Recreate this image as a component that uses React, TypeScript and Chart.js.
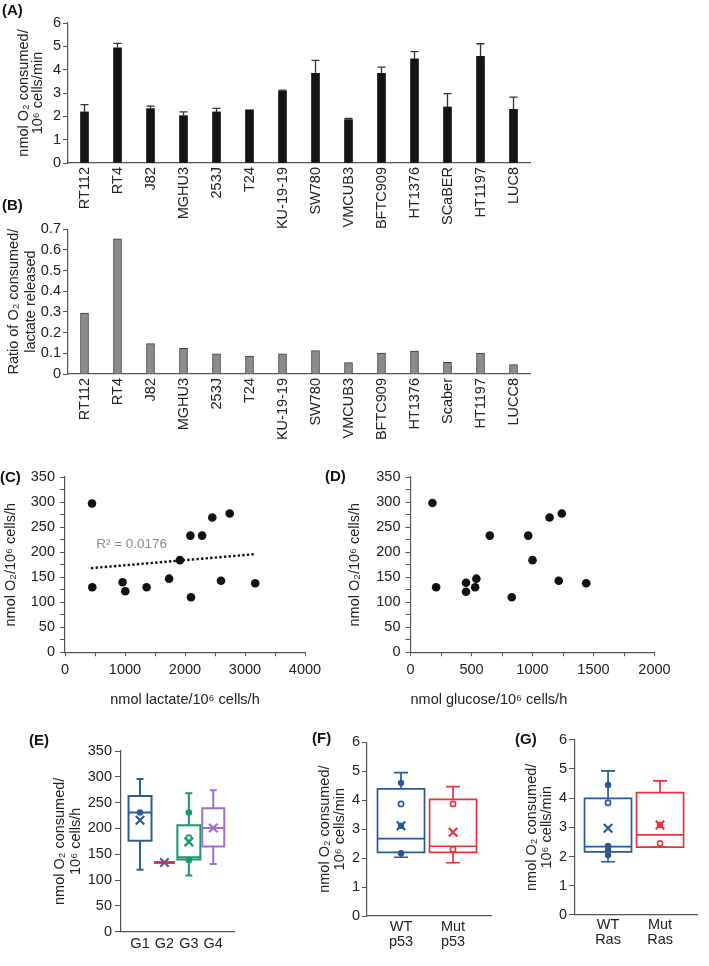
import React, { useEffect, useRef } from 'react';
import { Chart, registerables } from 'chart.js';

Chart.register(...registerables);

const FONT = "'Liberation Sans', Arial, Helvetica, sans-serif";
const TEXT = '#222222';
const AXIS = '#555555';
Chart.defaults.font.family = FONT;
Chart.defaults.color = TEXT;

// ---------------- Panel A ----------------
const cellLinesA = ['RT112', 'RT4', 'J82', 'MGHU3', '253J', 'T24', 'KU-19-19', 'SW780', 'VMCUB3', 'BFTC909', 'HT1376', 'SCaBER', 'HT1197', 'LUC8'];
const o2RateA = [2.19, 4.94, 2.33, 2.03, 2.19, 2.28, 3.08, 3.84, 1.86, 3.84, 4.46, 2.40, 4.57, 2.30];
const o2RateErrTopA = [2.50, 5.13, 2.44, 2.19, 2.34, 2.28, 3.12, 4.40, 1.91, 4.11, 4.77, 2.97, 5.11, 2.82];
const yTicksA = [0, 1, 2, 3, 4, 5, 6];

// ---------------- Panel B ----------------
const cellLinesB = ['RT112', 'RT4', 'J82', 'MGHU3', '253J', 'T24', 'KU-19-19', 'SW780', 'VMCUB3', 'BFTC909', 'HT1376', 'Scaber', 'HT1197', 'LUCC8'];
const ratioB = [0.295, 0.654, 0.147, 0.124, 0.097, 0.087, 0.097, 0.113, 0.055, 0.101, 0.111, 0.057, 0.101, 0.045];
const yTicksB = [0, 0.1, 0.2, 0.3, 0.4, 0.5, 0.6, 0.7];

// ---------------- Panel C ----------------
const lactateC = [450, 455, 960, 1005, 1360, 1735, 1915, 2090, 2100, 2285, 2455, 2600, 2745, 3170];
const o2C = [297, 130, 140, 122, 130, 147, 184, 233, 110, 233, 269, 143, 277, 138];
const trendXC = [433, 3172];
const trendYC = [168, 196];
const rSquaredText = 'R² = 0.0176';
const yTicksC = [0, 25, 50, 75, 100, 125, 150, 175, 200, 225, 250, 275, 300, 325, 350];
const xTicksC = [0, 500, 1000, 1500, 2000, 2500, 3000, 3500, 4000];

// ---------------- Panel D ----------------
const glucoseD = [180, 210, 455, 455, 530, 540, 650, 830, 965, 1000, 1140, 1215, 1240, 1440];
const o2D = [298, 130, 139, 121, 130, 147, 233, 110, 233, 184, 269, 143, 277, 138];
const xTicksD = [0, 250, 500, 750, 1000, 1250, 1500, 1750, 2000];

// ---------------- Panel E ----------------
const groupsE = ['G1', 'G2', 'G3', 'G4'];
const whiskerHighE = [296, 134, 268, 274];
const q3E = [263, 134, 206, 239];
const medianE = [231, 134, 144, 201];
const q1E = [176, 134, 140, 165];
const whiskerLowE = [120, 134, 109, 131];
const meanE = [216, 134, 174, 201];
const filledPointsE = [[231], [], [231, 139], []];
const openPointsE = [[], [], [182], []];
const yTicksE = [0, 50, 100, 150, 200, 250, 300, 350];

// ---------------- Panel F ----------------
const groupsF = [['WT', 'p53'], ['Mut', 'p53']];
const whiskerHighF = [4.95, 4.47];
const q3F = [4.39, 4.03];
const medianF = [2.67, 2.41];
const q1F = [2.20, 2.20];
const whiskerLowF = [2.03, 1.84];
const meanF = [3.12, 2.89];
const filledPointsF = [[4.60, 3.12, 2.17], []];
const openPointsF = [[3.87], [3.87, 2.30]];

// ---------------- Panel G ----------------
const groupsG = [['WT', 'Ras'], ['Mut', 'Ras']];
const whiskerHighG = [4.93, 4.59];
const q3G = [3.99, 4.19];
const medianG = [2.34, 2.74];
const q1G = [2.16, 2.32];
const whiskerLowG = [1.82, 2.32];
const meanG = [2.97, 3.08];
const filledPointsG = [[4.45, 2.36, 2.22, 2.05], [3.08]];
const openPointsG = [[3.84], [2.45]];
const yTicksFG = [0, 1, 2, 3, 4, 5, 6];

// ---------------- helpers ----------------
const font = (size: number, extra: any = {}) => ({ family: FONT, size, ...extra });

function leftAxis(c: any) {
  return {
    type: 'linear',
    position: 'left',
    min: c.min,
    max: c.max,
    afterBuildTicks: (s: any) => { s.ticks = c.ticks.map((v: number) => ({ value: v })); },
    afterFit: (s: any) => { s.width = c.width; },
    ticks: {
      autoSkip: false,
      padding: c.pad,
      color: TEXT,
      font: font(c.fontSize),
      callback: c.label || ((v: number) => String(v)),
    },
    grid: { display: true, drawOnChartArea: false, drawTicks: true, tickLength: c.tickLen, color: AXIS, lineWidth: 1 },
    border: { display: true, color: AXIS, width: 1.2 },
    title: {
      display: true,
      text: c.title,
      color: TEXT,
      font: font(c.titleSize, { lineHeight: c.titleLH + 'px' }),
      padding: { top: c.titlePad, bottom: 0 },
    },
  };
}

function categoryBottom(height: number) {
  return {
    type: 'category',
    position: 'bottom',
    afterFit: (s: any) => { s.height = height; },
    grid: { display: false, drawTicks: false },
    border: { display: true, color: AXIS, width: 1.2 },
    ticks: { autoSkip: false, minRotation: 90, maxRotation: 90, padding: 4, color: TEXT, font: font(14.5) },
  };
}

function linearBottom(c: any) {
  return {
    type: 'linear',
    position: 'bottom',
    min: c.min,
    max: c.max,
    afterBuildTicks: (s: any) => { s.ticks = c.ticks.map((v: number) => ({ value: v })); },
    afterFit: (s: any) => { s.height = c.height; },
    ticks: {
      autoSkip: false,
      maxRotation: 0,
      minRotation: 0,
      padding: c.pad,
      color: TEXT,
      font: font(c.fontSize, c.lineHeight ? { lineHeight: c.lineHeight } : {}),
      callback: c.label,
    },
    grid: c.tickLen
      ? { display: true, drawOnChartArea: false, drawTicks: true, tickLength: c.tickLen, color: AXIS }
      : { display: false, drawTicks: false },
    border: { display: true, color: AXIS, width: 1.2 },
    title: c.title
      ? { display: true, text: c.title, align: c.titleAlign || 'center', color: TEXT, font: font(14.5), padding: { top: 0, bottom: c.titlePad } }
      : { display: false },
  };
}

const baseOptions = (padding: any) => ({
  responsive: false,
  animation: false as const,
  devicePixelRatio: 1,
  layout: { padding },
  plugins: { legend: { display: false }, tooltip: { enabled: false } },
});

function makeErrorBarPlugin(values: number[], tops: number[]) {
  return {
    id: 'errorBarsA',
    afterDatasetsDraw(chart: any) {
      const meta = chart.getDatasetMeta(0);
      const y = chart.scales.y;
      const ctx = chart.ctx;
      ctx.save();
      ctx.strokeStyle = '#333';
      ctx.lineWidth = 1.3;
      meta.data.forEach((bar: any, i: number) => {
        if (tops[i] <= values[i]) return;
        const y0 = y.getPixelForValue(values[i]);
        const y1 = y.getPixelForValue(tops[i]);
        ctx.beginPath();
        ctx.moveTo(bar.x, y0);
        ctx.lineTo(bar.x, y1);
        ctx.moveTo(bar.x - 4, y1);
        ctx.lineTo(bar.x + 4, y1);
        ctx.stroke();
      });
      ctx.restore();
    },
  };
}

function makeBoxPlugin(id: string, b: any, st: any) {
  return {
    id,
    beforeDatasetsDraw(chart: any) {
      const { ctx, scales } = chart;
      const x = scales.x;
      const y = scales.y;
      ctx.save();
      b.med.forEach((_: number, i: number) => {
        const cx = x.getPixelForValue(i + 1);
        const hw = st.widths[i] / 2;
        const pHi = y.getPixelForValue(b.hi[i]);
        const pQ3 = y.getPixelForValue(b.q3[i]);
        const pMed = y.getPixelForValue(b.med[i]);
        const pQ1 = y.getPixelForValue(b.q1[i]);
        const pLo = y.getPixelForValue(b.lo[i]);
        ctx.strokeStyle = st.colors[i];
        ctx.lineWidth = st.lineWidths ? st.lineWidths[i] : st.lineWidth;
        ctx.beginPath();
        ctx.moveTo(cx, pHi); ctx.lineTo(cx, pQ3);
        ctx.moveTo(cx, pQ1); ctx.lineTo(cx, pLo);
        ctx.moveTo(cx - st.cap / 2, pHi); ctx.lineTo(cx + st.cap / 2, pHi);
        ctx.moveTo(cx - st.cap / 2, pLo); ctx.lineTo(cx + st.cap / 2, pLo);
        ctx.moveTo(cx - hw, pMed); ctx.lineTo(cx + hw, pMed);
        ctx.stroke();
        ctx.beginPath();
        ctx.rect(cx - hw, pQ3, 2 * hw, pQ1 - pQ3);
        ctx.stroke();
      });
      ctx.restore();
    },
  };
}

const groupPoints = (g: number[][]) => g.flatMap((vals, i) => vals.map((v) => ({ x: i + 1, y: v })));
const groupColors = (g: number[][], colors: string[]) => g.flatMap((vals, i) => vals.map(() => colors[i]));

function boxDatasets(filled: number[][], open: number[][], means: number[], colors: string[], meanColors: string[], r: any) {
  return [
    {
      data: groupPoints(open),
      pointStyle: 'circle',
      pointRadius: r.open,
      pointBackgroundColor: '#ffffff',
      pointBorderColor: groupColors(open, colors),
      pointBorderWidth: 1.6,
    },
    {
      data: groupPoints(filled),
      pointStyle: 'circle',
      pointRadius: r.filled,
      pointBackgroundColor: groupColors(filled, colors),
      pointBorderColor: groupColors(filled, colors),
      pointBorderWidth: 0,
    },
    {
      data: means.map((v, i) => ({ x: i + 1, y: v })),
      pointStyle: 'crossRot',
      pointRadius: r.mean,
      pointBorderColor: meanColors,
      pointBackgroundColor: meanColors,
      pointBorderWidth: 2.2,
    },
  ];
}

// ---------------- configs ----------------
function configA(): any {
  return {
    type: 'bar',
    data: {
      labels: cellLinesA,
      datasets: [{ data: o2RateA, backgroundColor: '#141414', borderWidth: 0, barThickness: 8 }],
    },
    options: {
      ...baseOptions({ top: 23, right: 15, left: 0, bottom: 0 }),
      scales: {
        x: categoryBottom(77),
        y: leftAxis({
          min: 0, max: 6, ticks: yTicksA, width: 68, pad: 2, tickLen: 5, fontSize: 14.5,
          title: ['nmol O₂ consumed/', '10⁶ cells/min'], titleSize: 14.5, titleLH: 14, titlePad: 16.5,
        }),
      },
    },
    plugins: [makeErrorBarPlugin(o2RateA, o2RateErrTopA)],
  };
}

function configB(): any {
  return {
    type: 'bar',
    data: {
      labels: cellLinesB,
      datasets: [{ data: ratioB, backgroundColor: '#8c8c8c', borderColor: '#3a3a3a', borderWidth: 1, barThickness: 8 }],
    },
    options: {
      ...baseOptions({ top: 29.3, right: 15, left: 0, bottom: 0 }),
      scales: {
        x: categoryBottom(86),
        y: leftAxis({
          min: 0, max: 0.7, ticks: yTicksB, width: 68, pad: 2, tickLen: 5, fontSize: 14.5,
          title: ['Ratio of O₂ consumed/', 'lactate released'], titleSize: 14.5, titleLH: 17, titlePad: 5.5,
        }),
      },
    },
  };
}

const rLabelPlugin = {
  id: 'rSquaredLabel',
  afterDatasetsDraw(chart: any) {
    const { ctx, scales } = chart;
    ctx.save();
    ctx.fillStyle = '#8a8a8a';
    ctx.font = `13.5px ${FONT}`;
    ctx.textAlign = 'left';
    ctx.textBaseline = 'middle';
    ctx.fillText(rSquaredText, scales.x.getPixelForValue(520), scales.y.getPixelForValue(215));
    ctx.restore();
  },
};

const majorLabel = (every: number) => (v: number) => (Math.abs(v % every) < 1e-9 ? String(v) : '');

function configC(): any {
  return {
    type: 'scatter',
    data: {
      datasets: [
        {
          data: lactateC.map((x, i) => ({ x, y: o2C[i] })),
          pointRadius: 4.3, pointBackgroundColor: '#111', pointBorderWidth: 0,
        },
        {
          data: trendXC.map((x, i) => ({ x, y: trendYC[i] })),
          showLine: true, pointRadius: 0, borderColor: '#111', borderWidth: 2.4, borderDash: [2.4, 2.2],
        },
      ],
    },
    options: {
      ...baseOptions({ top: 22, right: 25, left: 0, bottom: 0 }),
      scales: {
        x: linearBottom({
          min: 0, max: 4000, ticks: xTicksC, height: 62.7, pad: 5, tickLen: 4, fontSize: 14.5,
          label: majorLabel(1000), title: 'nmol lactate/10⁶ cells/h', titlePad: 6.3,
        }),
        y: leftAxis({
          min: 0, max: 350, ticks: yTicksC, width: 65, pad: 5, tickLen: 5, fontSize: 14.5, label: majorLabel(50),
          title: 'nmol O₂/10⁶ cells/h', titleSize: 14.5, titleLH: 17, titlePad: 2,
        }),
      },
    },
    plugins: [rLabelPlugin],
  };
}

function configD(): any {
  return {
    type: 'scatter',
    data: {
      datasets: [
        {
          data: glucoseD.map((x, i) => ({ x, y: o2D[i] })),
          pointRadius: 4.3, pointBackgroundColor: '#111', pointBorderWidth: 0,
        },
      ],
    },
    options: {
      ...baseOptions({ top: 22, right: 54.5, left: 0, bottom: 0 }),
      scales: {
        x: linearBottom({
          min: 0, max: 2000, ticks: xTicksD, height: 62.7, pad: 5, tickLen: 4, fontSize: 14.5,
          label: majorLabel(500), title: 'nmol glucose/10⁶ cells/h', titlePad: 6.3, titleAlign: 'start',
        }),
        y: leftAxis({
          min: 0, max: 350, ticks: yTicksC, width: 80.5, pad: 5, tickLen: 5, fontSize: 14.5, label: majorLabel(50),
          title: 'nmol O₂/10⁶ cells/h', titleSize: 14.5, titleLH: 17, titlePad: 16,
        }),
      },
    },
  };
}

function configE(): any {
  const colors = ['#2d5b98', '#d63347', '#16996b', '#a070c8'];
  const meanColors = ['#2d5b98', '#6a4f9e', '#16996b', '#a070c8'];
  return {
    type: 'scatter',
    data: { datasets: boxDatasets(filledPointsE, openPointsE, meanE, colors, meanColors, { open: 2.6, filled: 3.3, mean: 6 }) },
    options: {
      ...baseOptions({ top: 23, right: 16, left: 0, bottom: 0 }),
      scales: {
        x: linearBottom({
          min: 0.22, max: 4.85, ticks: [1, 2, 3, 4], height: 34.3, pad: 4, fontSize: 14.5,
          label: (v: number) => groupsE[Math.round(v) - 1] || '',
        }),
        y: leftAxis({
          min: 0, max: 350, ticks: yTicksE, width: 81, pad: 3, tickLen: 6, fontSize: 14.5,
          title: ['nmol O₂ consumed/', '10⁶ cells/h'], titleSize: 14.5, titleLH: 16.5, titlePad: 11.25,
        }),
      },
    },
    plugins: [
      makeBoxPlugin('boxE', { hi: whiskerHighE, q3: q3E, med: medianE, q1: q1E, lo: whiskerLowE },
        { colors, widths: [23, 21, 23, 22], cap: 7, lineWidth: 2, lineWidths: [2, 2.6, 2, 2] }),
    ],
  };
}

function configFG(which: 'F' | 'G'): any {
  const colors = ['#2b5796', '#e8333a'];
  const isF = which === 'F';
  const groups = isF ? groupsF : groupsG;
  const stats = isF
    ? { hi: whiskerHighF, q3: q3F, med: medianF, q1: q1F, lo: whiskerLowF }
    : { hi: whiskerHighG, q3: q3G, med: medianG, q1: q1G, lo: whiskerLowG };
  return {
    type: 'scatter',
    data: {
      datasets: boxDatasets(
        isF ? filledPointsF : filledPointsG,
        isF ? openPointsF : openPointsG,
        isF ? meanF : meanG,
        colors, colors, { open: 2.6, filled: 3.2, mean: 6 },
      ),
    },
    options: {
      ...baseOptions(isF ? { top: 17.3, right: 9, left: 0, bottom: 0 } : { top: 14.7, right: 12, left: 0, bottom: 0 }),
      scales: {
        x: linearBottom({
          min: isF ? 0.346 : 0.365, max: isF ? 2.73 : 2.71, ticks: [1, 2], height: isF ? 50 : 51.1, pad: 3,
          fontSize: 14.5, lineHeight: '15px',
          label: (v: number) => groups[Math.round(v) - 1] || '',
        }),
        y: leftAxis({
          min: 0, max: 6, ticks: yTicksFG, width: isF ? 67 : 75, pad: 2, tickLen: isF ? 5 : 6, fontSize: 14.5,
          title: ['nmol O₂ consumed/', '10⁶ cells/min'], titleSize: 14.5, titleLH: 15.5, titlePad: isF ? 16.75 : 23.75,
        }),
      },
    },
    plugins: [
      makeBoxPlugin('box' + which, stats, { colors, widths: [47, 47], cap: 14, lineWidth: 1.7 }),
    ],
  };
}

// ---------------- components ----------------
function ChartBox(props: { left: number; top: number; width: number; height: number; build: () => any }) {
  const ref = useRef<HTMLCanvasElement>(null);
  useEffect(() => {
    const chart = new Chart(ref.current as HTMLCanvasElement, props.build());
    return () => chart.destroy();
  }, []);
  return (
    <div style={{ position: 'absolute', left: props.left, top: props.top, width: props.width, height: props.height }}>
      <canvas ref={ref} width={props.width} height={props.height} style={{ width: props.width, height: props.height, display: 'block' }} />
    </div>
  );
}

const panelLabels = [
  { text: '(A)', left: 2, top: 1 },
  { text: '(B)', left: 2, top: 196 },
  { text: '(C)', left: 0, top: 468 },
  { text: '(D)', left: 325, top: 467 },
  { text: '(E)', left: 29, top: 731 },
  { text: '(F)', left: 312, top: 729 },
  { text: '(G)', left: 515, top: 730 },
];

export default function App() {
  return (
    <div style={{ position: 'absolute', left: 0, top: 0, width: 709, height: 966, background: '#ffffff', overflow: 'hidden', fontFamily: FONT }}>
      <ChartBox left={0} top={0} width={545} height={240} build={configA} />
      <ChartBox left={0} top={200} width={545} height={260} build={configB} />
      <ChartBox left={0} top={455} width={330} height={260} build={configC} />
      <ChartBox left={330} top={455} width={379} height={260} build={configD} />
      <ChartBox left={40} top={728} width={210} height={238} build={configE} />
      <ChartBox left={300} top={725} width={200} height={241} build={() => configFG('F')} />
      <ChartBox left={500} top={725} width={209} height={241} build={() => configFG('G')} />
      {panelLabels.map((p) => (
        <div key={p.text} style={{ position: 'absolute', left: p.left, top: p.top, fontSize: 15, fontWeight: 'bold', lineHeight: '18px', color: '#111' }}>
          {p.text}
        </div>
      ))}
    </div>
  );
}
